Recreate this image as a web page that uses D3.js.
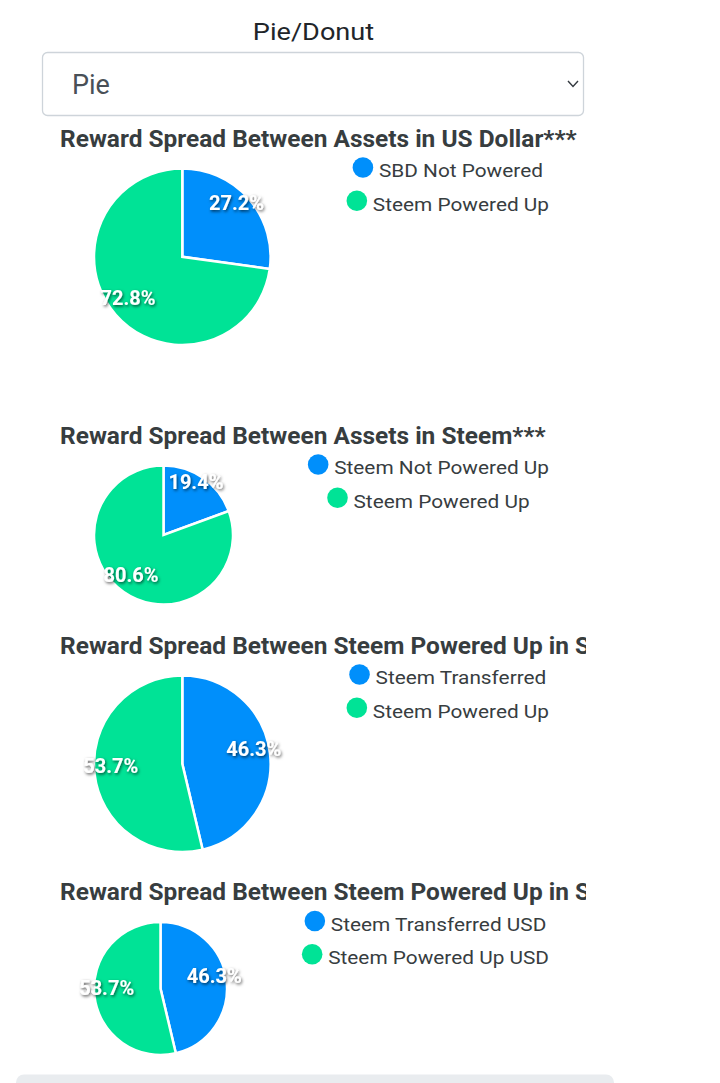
<!DOCTYPE html>
<html>
<head>
<meta charset="utf-8">
<script src="https://cdn.jsdelivr.net/npm/d3@7"></script>
<style>
  body { margin: 0; background: #fff; }
  svg { display: block; font-family: Roboto, "Noto Sans", sans-serif; }
</style>
</head>
<body>
<script>
// chart data
var titles = [
  "Reward Spread Between Assets in US Dollar***",
  "Reward Spread Between Assets in Steem***",
  "Reward Spread Between Steem Powered Up in Steem",
  "Reward Spread Between Steem Powered Up in Steem USD"
];
var seriesNames = [
  ["SBD Not Powered", "Steem Powered Up"],
  ["Steem Not Powered Up", "Steem Powered Up"],
  ["Steem Transferred", "Steem Powered Up"],
  ["Steem Transferred USD", "Steem Powered Up USD"]
];
var seriesValues = [
  [27.2, 72.8],
  [19.4, 80.6],
  [46.3, 53.7],
  [46.3, 53.7]
];
var colors = ["#008FFB", "#00E396"];
var chartTypes = ["Pie"];

// layout
var width = 720, height = 1083;
var titleY = [146.5, 443.5, 653.5, 900],
    radius = [88.3, 69.5, 88.3, 66.5],
    pieLeft = 94,
    clipRight = 586,
    legendRight = 549;

// the screenshot's text runs a bit wider than Roboto does here
var titleStretch = 1.064,
    legendStretch = 1.125,
    headStretch = 1.13;

var svg = d3.select("body").append("svg")
    .attr("width", width)
    .attr("height", height);

var defs = svg.append("defs");
var shadow = defs.append("filter").attr("id", "shadow")
    .attr("x", "-20%").attr("y", "-30%").attr("width", "140%").attr("height", "160%");
shadow.append("feDropShadow")
    .attr("dx", 1).attr("dy", 1.5)
    .attr("stdDeviation", 1.5)
    .attr("flood-color", "#000")
    .attr("flood-opacity", 0.65);

defs.append("clipPath").attr("id", "clip")
  .append("rect").attr("x", 0).attr("y", 0).attr("width", clipRight).attr("height", height);

// header + select
svg.append("text")
    .attr("transform", "translate(313.5,39.5) scale(" + headStretch + ",1)")
    .attr("text-anchor", "middle")
    .attr("font-size", 24)
    .attr("fill", "#212529")
    .text("Pie/Donut");

svg.append("rect")
    .attr("x", 42.5).attr("y", 52.5)
    .attr("width", 541).attr("height", 63)
    .attr("rx", 5)
    .attr("fill", "#fff")
    .attr("stroke", "#ced4da")
    .attr("stroke-width", 1.3);

svg.append("text")
    .attr("x", 72).attr("y", 94.3)
    .attr("font-size", 27)
    .attr("fill", "#495057")
    .text(chartTypes[0]);

svg.append("path")
    .attr("d", "M568,81L573,86.5L578,81")
    .attr("fill", "none")
    .attr("stroke", "#343a40")
    .attr("stroke-width", 1.4);

var fmt = d3.format(".1f");
var pie = d3.pie().sort(null).value(function(d) { return d; });

titles.forEach(function(title, i) {
  var r = radius[i],
      cx = pieLeft + r,
      cy = titleY[i] + 22 + r;

  var g = svg.append("g").attr("clip-path", "url(#clip)");

  g.append("text")
      .attr("transform", "translate(60," + titleY[i] + ") scale(" + titleStretch + ",1)")
      .attr("font-size", 23)
      .attr("font-weight", "bold")
      .attr("fill", "#373d3f")
      .text(title);

  var arcs = pie(seriesValues[i]);
  var arc = d3.arc().innerRadius(0).outerRadius(r);
  var labelArc = d3.arc().innerRadius(r * 0.815).outerRadius(r * 0.815);

  var pg = g.append("g").attr("transform", "translate(" + [cx, cy] + ")");
  pg.selectAll("path")
    .data(arcs)
    .enter().append("path")
      .attr("d", arc)
      .attr("fill", function(d, j) { return colors[j]; })
      .attr("stroke", "#fff")
      .attr("stroke-width", 2.5)
      .attr("stroke-linejoin", "miter");

  pg.selectAll("text")
    .data(arcs)
    .enter().append("text")
      .attr("x", function(d) { return labelArc.centroid(d)[0]; })
      .attr("y", function(d) { return labelArc.centroid(d)[1] + 0.5; })
      .attr("text-anchor", "middle")
      .attr("font-size", 20)
      .attr("font-weight", "bold")
      .attr("fill", "#fff")
      .attr("filter", "url(#shadow)")
      .text(function(d) {
        var total = d3.sum(seriesValues[i]);
        return fmt(d.value / total * 100) + "%";
      });

  // legend, items centred inside a right-aligned box
  var items = g.append("g").selectAll("g")
    .data(seriesNames[i])
    .enter().append("g");
  items.append("circle")
      .attr("r", 10.3)
      .attr("fill", function(d, j) { return colors[j]; });
  items.append("text")
      .attr("transform", "translate(16,9.8) scale(" + legendStretch + ",1)")
      .attr("font-size", 18.5)
      .attr("fill", "#373d3f")
      .text(function(d) { return d; });

  var widths = [];
  items.each(function() {
    var len = d3.select(this).select("text").node().getComputedTextLength();
    widths.push(10.3 + 16 + len * legendStretch);
  });
  var maxW = d3.max(widths),
      centre = legendRight - maxW / 2;
  items.attr("transform", function(d, j) {
    return "translate(" + (centre - widths[j] / 2 + 10.3) + "," + (titleY[i] + 21 + j * 33.3) + ")";
  });
});

// top of the next panel
svg.append("rect")
    .attr("x", 16).attr("y", 1074.5)
    .attr("width", 598).attr("height", 30)
    .attr("rx", 8)
    .attr("fill", "#e9ecef");
</script>
</body>
</html>
